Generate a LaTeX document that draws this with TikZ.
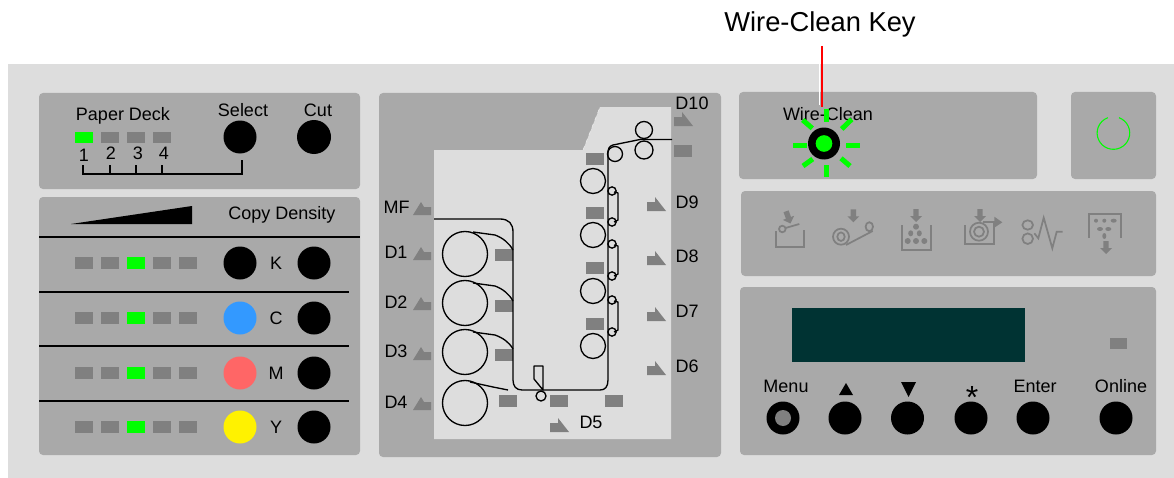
\documentclass[tikz,border=0pt]{standalone}
\usepackage{fontspec}
\setmainfont{Liberation Sans}
\definecolor{bgg}{HTML}{DDDDDD}
\definecolor{pang}{HTML}{A9A9A9}
\definecolor{ledg}{HTML}{808080}
\definecolor{lcdc}{HTML}{003333}
\definecolor{lit}{HTML}{00FF00}
\tikzset{
  panel/.style={fill=pang,rounded corners=3pt},
  ledbox/.style={rectangle,fill=ledg,inner sep=0pt,minimum width=13.5pt,minimum height=8.6pt},
  ledon/.style={ledbox,fill=lit},
  btn/.style={circle,fill=black,inner sep=0pt,minimum size=24.75pt},
  lbl/.style={inner sep=0pt,font=\fontsize{13.5}{14}\selectfont,text=black,text height=9.6pt,text depth=0pt},
  keylbl/.style={inner sep=0pt,font=\fontsize{20.5}{22}\selectfont,text=black},
  feed/.style={draw=black,line width=1pt,line join=round},
  drum/.style={circle,draw=black,line width=1pt,inner sep=0pt},
  sens/.style={fill=ledg},
  ico/.style={draw=ledg,line width=1.3pt},
  icof/.style={fill=ledg},
  ray/.style={draw=lit,line width=3.75pt}
}
\newcommand{\sensR}[2]{\fill[sens] (#1,#2+5)--(#1+8,#2+5)--(#1+8,#2)--(#1+19,#2+14)--(#1,#2+14)--cycle;}
\newcommand{\sensL}[2]{\fill[sens] (#1+18,#2+5)--(#1+11,#2+5)--(#1+8,#2)--(#1,#2+13)--(#1+18,#2+13)--cycle;}
\newcommand{\dnar}[3]{\fill[icof,shift={(#1,#2)},rotate=#3] (-2.7,-13)--(2.7,-13)--(2.7,-6)--(6,-6)--(0,0)--(-6,-6)--(-2.7,-6)--cycle;}
\begin{document}
\begin{tikzpicture}[x=0.75pt,y=-0.75pt]
\useasboundingbox (0,0) rectangle (1174,478);
\fill[white] (0,0) rectangle (1174,478);
\fill[bgg] (8,64) rectangle (1174,478);
% panels
\path[panel] (39,93) rectangle (360,189);
\path[panel] (39,197) rectangle (360,455);
\path[panel] (379,93) rectangle (721,457);
\path[panel] (739,92) rectangle (1037,179);
\path[panel] (1071,92) rectangle (1156,179);
\path[panel] (741,191) rectangle (1156,276);
\path[panel] (740,287) rectangle (1156,455);
% paper deck panel
\node[lbl] (paperdeck) at (123,114.5) {Paper Deck};
\node[ledon] (pd1) at (84,137.5) {};
\foreach \n/\x in {2/110,3/136,4/162}{\node[ledbox] (pd\n) at (\x,137.5) {};}
\node[lbl] (n1) at (84,155) {1};
\node[lbl] (n2) at (111,153.5) {2};
\node[lbl] (n3) at (138,153.5) {3};
\node[lbl] (n4) at (164,153.5) {4};
\node[lbl] (sellbl) at (243,110) {Select};
\node[lbl] (cutlbl) at (318,110) {Cut};
\node[btn] (select) at (240,137) {};
\node[btn,minimum size=25.5pt] (cut) at (314,137) {};
\draw[black,line width=.9pt] (83,165)--(83,174)--(242,174)--(242,160);
\foreach \x in {110,136,162}{\draw[black,line width=.8pt] (\x,165)--(\x,174);}
% copy density
\fill[black] (71,224)--(192,206)--(192,224)--cycle;
\node[lbl] (density) at (282,213.5) {Copy Density};
\draw[black,line width=1pt] (39,237)--(360,237);
\foreach \y in {292,346,401}{\draw[black,line width=.8pt] (39,\y)--(349,\y);}
\foreach \r/\y/\t in {k/263/K,c/318/C,m/373/M,y/427/Y}{
  \foreach \n/\x in {1/84,2/110,4/162,5/188}{\node[ledbox] (l\r\n) at (\x,\y) {};}
  \node[ledon] (l\r3) at (136,\y) {};
  \node[lbl] (t\r) at (276,\y) {\t};
  \node[btn] (b\r) at (314,\y) {};
}
\node[btn] (bk2) at (240,263) {};
\node[btn,fill={rgb,255:red,51;green,153;blue,255}] (bc2) at (240,318) {};
\node[btn,fill={rgb,255:red,255;green,102;blue,102}] (bm2) at (240,373) {};
\node[btn,fill=yellow] (by2) at (240,427) {};
% machine
\fill[bgg] (434,150)--(583,150)--(600,107)--(671,107)--(671,439)--(434,439)--cycle;
\draw[bgg!40!white,line width=.35pt,dashed] (583,150)--(600,107);
\foreach \x/\y in {495/249,495/300,495/349,499/395,550/395,605/395,586/153,586/207,586/262,586/318,674/145}{
  \fill[ledg] (\x,\y) rectangle (\x+18,\y+12);
}
\foreach \y in {254,303,352,403}{\node[drum,minimum size=33.75pt] at (465,\y) {};}
\foreach \y in {181,235,291,346}{\node[drum,minimum size=18.75pt] at (593,\y) {};}
\node[drum,minimum size=12.75pt] (fu1) at (644,130) {};
\node[drum,minimum size=13.5pt] (fu2) at (644,150) {};
\node[drum,minimum size=11.25pt] (fu3) at (615,154) {};
\foreach \y in {191,222,244,276,300,332}{\node[drum,minimum size=6.2pt] at (612,\y) {};}
\draw[feed] (614,192)--(618,193)--(618,220)--(614,222);
\draw[feed] (614,245)--(618,246)--(618,274)--(614,276);
\draw[feed] (614,301)--(618,302)--(618,330)--(614,332);
\draw[feed] (672,139.5)--(640,139.5)--(613,145) .. controls (609,146) and (608,149) .. (608,153)
  --(608,380) .. controls (608,387) and (605,390) .. (600,390)
  --(522,390) .. controls (516,390) and (513,386) .. (513,380)
  --(513,232) .. controls (513,224) and (509,219) .. (500,219)--(434,219);
\draw[feed] (473,232)--(495,235) .. controls (503,238) and (509,243) .. (513,250);
\draw[feed] (473,283)--(495,286) .. controls (503,289) and (509,294) .. (513,301);
\draw[feed] (473,332)--(495,335) .. controls (503,338) and (509,342) .. (513,349);
\draw[feed] (470,382)--(493,387)--(508,390);
\draw[feed] (534,366)--(543,366)--(543,390)--(534,379)--cycle;
\node[drum,minimum size=7.5pt,fill=bgg] (flap) at (541,396) {};
% sensors
\sensR{674}{112}
\sensR{647}{197}
\sensR{647}{251}
\sensR{647}{307}
\sensR{647}{361}
\sensR{550}{418}
\sensL{413}{202}
\sensL{413}{247}
\sensL{413}{297}
\sensL{413}{347}
\sensL{413}{397}
\node[lbl] (d10) at (692,103) {D10};
\node[lbl] (d9) at (687,202) {D9};
\node[lbl] (d8) at (687,256.5) {D8};
\node[lbl] (d7) at (687,311.5) {D7};
\node[lbl] (d6) at (687,366) {D6};
\node[lbl] (d5) at (591,422) {D5};
\node[lbl] (mf) at (396.5,207) {MF};
\node[lbl] (d1) at (396,252) {D1};
\node[lbl] (d2) at (396,302) {D2};
\node[lbl] (d3) at (396,351) {D3};
\node[lbl] (d4) at (396,402) {D4};
% wire clean
\node[lbl] (wclbl) at (828,114.5) {Wire-Clean};
\draw[ray] (826.7,109)--(826.7,122);
\draw[ray] (826.7,165)--(826.7,177);
\draw[ray] (793,145)--(807,145);
\draw[ray] (846,145)--(860,145);
\draw[ray] (802.7,120)--(812.3,128.3);
\draw[ray] (851.7,119.3)--(841.7,129);
\draw[ray] (803,166)--(812.7,159);
\draw[ray] (850,166)--(841,158.3);
\node[btn,minimum size=24pt] (wire) at (824,143.5) {};
\node[circle,fill=lit,inner sep=0pt,minimum size=12.5pt] (wireled) at (824,143.5) {};
\node[keylbl] (wirekey) at (820,24) {Wire-Clean Key};
\coordinate (leadtop) at (822,46);
\coordinate (leadend) at (822,107);
\draw[white,line width=.75pt] (819.5,64)--(819.5,105);
\draw[red,line width=1.6pt] (leadtop)--(leadend);
% power
\draw[lit,line width=.8pt] (1119,117.7) arc[start angle=-70,end angle=250,radius=16.3];
% icons
\draw[ico] (776,231)--(776,247)--(804.3,247)--(804.3,230);
\draw[ico] (785.5,228)--(799.3,224);
\draw[ico] (782.3,229) circle[radius=3.3];
\dnar{790.5}{223.5}{20}
\dnar{853.3}{222.3}{0}
\draw[ico] (841,236.7) circle[radius=8];
\draw[ico] (841,236.7) ellipse[x radius=3.7,y radius=4.3];
\draw[ico] (869.3,226.7) ellipse[x radius=3.7,y radius=4.5];
\draw[ico] (846,245)--(872.7,231);
\dnar{916}{222}{0}
\draw[ico] (901.7,225)--(901.7,250)--(931,250)--(931,225);
\fill[icof] (916,226.7) circle[radius=3];
\fill[icof] (910.7,233.3) ellipse[x radius=2.5,y radius=3];
\fill[icof] (919.3,233.3) ellipse[x radius=2.5,y radius=3];
\foreach \x in {907.7,916,924.3}{\fill[icof] (\x,241) circle[radius=3];}
\draw[ico] (965.3,225)--(965.3,244)--(994,244)--(994,222.3);
\draw[ico] (983.3,222.3)--(996,222.3);
\fill[icof] (994.3,216.7)--(1002.3,222.3)--(994.3,227.7)--cycle;
\draw[ico] (979,231.7) circle[radius=9];
\draw[ico] (979,231.7) circle[radius=5];
\dnar{980}{222}{0}
\draw[ico] (1027.7,225) ellipse[x radius=5.3,y radius=4.7];
\draw[ico] (1027.7,238.7) ellipse[x radius=5.3,y radius=5.3];
\draw[ico] (1034.3,233.3)--(1038.3,238.3)--(1043.7,217.7)--(1052.3,248.3)--(1056.7,231.7)--(1062.7,231.7);
\draw[ico] (1089.3,237.7)--(1089.3,214)--(1120.7,214)--(1120.7,237.7);
\fill[icof] (1096,220.7) circle[radius=2];
\fill[icof] (1104.3,220.7) circle[radius=2];
\fill[icof] (1113.7,220.7) ellipse[x radius=3,y radius=2];
\fill[icof] (1100,229) ellipse[x radius=3,y radius=2];
\fill[icof] (1108.3,229) ellipse[x radius=3,y radius=2];
\fill[icof] (1104.3,236) ellipse[x radius=2,y radius=3];
\dnar{1106}{254}{0}
% display panel
\fill[lcdc] (792,308) rectangle (1025,362);
\fill[ledg] (1110,338) rectangle (1127,349);
\node[lbl] (menul) at (786,386.5) {Menu};
\node[lbl] (enterl) at (1035,386.5) {Enter};
\node[lbl] (onlinel) at (1121,386.5) {Online};
\fill[black] (846,383)--(853,395)--(839,395)--cycle;
\fill[black] (901,382)--(916,382)--(908.5,397)--cycle;
\node[inner sep=0pt,font=\fontsize{24}{24}\selectfont,text=black] (starl) at (972,397.5) {*};
\node[btn] (menu) at (783,418) {};
\node[circle,fill=ledg,inner sep=0pt,minimum size=12pt] (menuled) at (783,418) {};
\node[btn] (up) at (845,418) {};
\node[btn] (down) at (907.5,418) {};
\node[btn] (star) at (971,418) {};
\node[btn] (enter) at (1033,418) {};
\node[btn] (online) at (1116,418) {};
\end{tikzpicture}
\end{document}
